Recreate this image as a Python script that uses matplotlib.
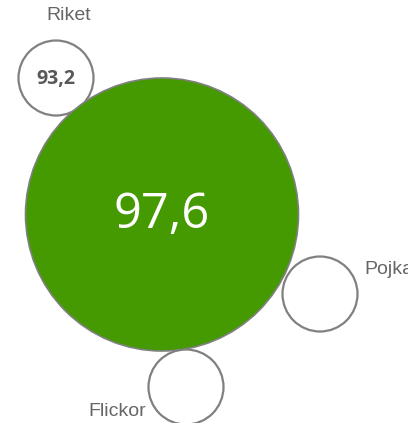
import matplotlib
matplotlib.use('Agg')
import matplotlib.pyplot as plt
from matplotlib.patches import Circle

# Data
skola_varde = '97,6'
grupper = ['Riket', 'Pojkar', 'Flickor']
grupp_varden = ['93,2', '', '']

fig = plt.figure(figsize=(4.08, 4.23), dpi=100)
ax = fig.add_axes([0, 0, 1, 1])
ax.set_xlim(0, 408)
ax.set_ylim(423, 0)
ax.set_aspect('equal')
ax.axis('off')

# Stor cirkel
ax.add_patch(Circle((162, 214.5), 136.5, facecolor='#449a00',
                    edgecolor='#808080', linewidth=1.2, zorder=2))
ax.text(162, 215, skola_varde, color='white', fontsize=35,
        family='Open Sans', ha='center', va='center', zorder=3)

# Små cirklar: (center, etikett-position, justering)
layout = [
    ((56, 78), (69, 16), 'center'),
    ((320, 294), (364, 269), 'left'),
    ((186, 387), (146, 411), 'right'),
]
for namn, varde, (c, lab, ha) in zip(grupper, grupp_varden, layout):
    ax.add_patch(Circle(c, 37.5, facecolor='white', edgecolor='#808080',
                        linewidth=1.6, zorder=1))
    if varde:
        ax.text(c[0], c[1] + 1, varde, color='#595959', fontsize=14,
                fontweight='bold', family='Open Sans', ha='center',
                va='center', zorder=3)
    ax.text(lab[0], lab[1], namn, color='#666666', fontsize=14,
            family='Liberation Sans', ha=ha, va='center', zorder=3,
            clip_on=False)

fig.savefig('out.png', dpi=100)
